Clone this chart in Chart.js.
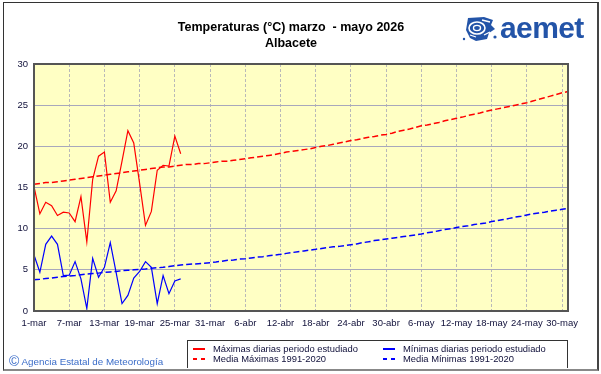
<!DOCTYPE html>
<html>
<head>
<meta charset="utf-8">
<script src="https://cdn.jsdelivr.net/npm/chart.js@4.4.1/dist/chart.umd.min.js"></script>
<style>
  body { margin: 0; background: #fff; }
  #wrap { position: relative; width: 601px; height: 374px; overflow: hidden; font-family: "Liberation Sans", Arial, sans-serif; }
  #wrap canvas { position: absolute; left: 0; top: 0; }
  .abs { position: absolute; white-space: nowrap; }
  #frame { left: 3px; top: 2px; width: 593px; height: 366px; border-left: 1px solid #333; border-top: 1px solid #333; border-right: 2px solid #444; border-bottom: 2px solid #888; }
  .title { left: 0; width: 582px; text-align: center; font-weight: bold; font-size: 12.5px; color: #000; }
  #logo { left: 500px; top: 11px; font-weight: bold; font-size: 30px; color: #2354a8; letter-spacing: -0.6px; }
  #legend { left: 187px; top: 340px; width: 379px; height: 27px; border: 1px solid #333; border-bottom: none; }
  .ltext { font-size: 9.4px; color: #10103a; }
  .seg { position: absolute; height: 1.5px; }
  #copy { left: 9px; top: 353px; font-size: 9.8px; color: #3a6cc8; }
  #copy span { font-size: 14px; vertical-align: -1px; }
</style>
</head>
<body>
<div id="wrap">
  <canvas id="tempChart" width="601" height="374"></canvas>
  <div id="frame" class="abs"></div>
  <div class="abs title" style="top:20px">Temperaturas (°C) marzo &nbsp;- mayo 2026</div>
  <div class="abs title" style="top:36px">Albacete</div>
  <svg class="abs" style="left:462px;top:15px" width="36" height="28" viewBox="0 0 36 28">
    <path d="M6 3 L22 2 L31 5 L29 10 L33 14 L27 18 L25 24 L14 26 L8 23 L4 15 Z" fill="#2354a8"/>
    <ellipse cx="15" cy="13" rx="8" ry="6" fill="none" stroke="#fff" stroke-width="1.6"/>
    <ellipse cx="15" cy="13" rx="3.5" ry="2.6" fill="none" stroke="#fff" stroke-width="1.4"/>
    <path d="M20 5 L28 7 M22 20 L28 17 M8 20 L14 22" stroke="#fff" stroke-width="1.3"/>
    <circle cx="2" cy="24" r="1.2" fill="#2354a8"/>
    <circle cx="33" cy="22" r="1.6" fill="#2354a8"/>
  </svg>
  <div id="logo" class="abs">aemet</div>
  <div id="legend" class="abs"></div>
  <div class="seg" style="left:193px;top:348px;width:12px;background:#ff0000"></div>
  <div class="seg" style="left:193px;top:358px;width:4px;background:#ff0000"></div>
  <div class="seg" style="left:201px;top:358px;width:4px;background:#ff0000"></div>
  <div class="seg" style="left:383px;top:348px;width:12px;background:#0000ff"></div>
  <div class="seg" style="left:383px;top:358px;width:4px;background:#0000ff"></div>
  <div class="seg" style="left:391px;top:358px;width:4px;background:#0000ff"></div>
  <div class="abs ltext" style="left:213px;top:343px">Máximas diarias periodo estudiado</div>
  <div class="abs ltext" style="left:213px;top:353px">Media Máximas 1991-2020</div>
  <div class="abs ltext" style="left:403px;top:343px">Mínimas diarias periodo estudiado</div>
  <div class="abs ltext" style="left:403px;top:353px">Media Mínimas 1991-2020</div>
  <div id="copy" class="abs"><span>©</span> Agencia Estatal de Meteorología</div>
</div>
<script>
// categories: every day from 1-mar to 31-may
const monthNames = ['mar', 'abr', 'may'];
const monthDays = [31, 30, 31];
const dayLabels = [];
monthNames.forEach((m, k) => {
    for (let d = 1; d <= monthDays[k]; d++) dayLabels.push(d + '-' + m);
});

// daily values (1-mar .. 26-mar)
const maxDaily = [15.1, 11.8, 13.2, 12.8, 11.6, 12.0, 11.9, 10.85, 13.9, 8.4,
                  16.0, 18.8, 19.3, 13.2, 14.6, 18.2, 21.9, 20.4, 15.5, 10.4,
                  12.1, 17.1, 17.7, 17.6, 21.25, 19.1];
const minDaily = [6.8, 4.7, 8.1, 9.1, 8.1, 4.3, 4.35, 6.0, 3.9, 0.3,
                  6.4, 4.1, 5.3, 8.3, 4.65, 0.9, 1.9, 4.0, 4.8, 6.0,
                  5.3, 0.9, 4.3, 2.1, 3.65, 3.9];

// 1991-2020 means, one value per day
const maxMean = [15.4, 15.5, 15.6, 15.6, 15.7, 15.8, 15.9, 16.0, 16.1, 16.2,
                 16.3, 16.4, 16.5, 16.6, 16.7, 16.8, 16.9, 17.0, 17.1, 17.2,
                 17.3, 17.4, 17.5, 17.5, 17.6, 17.7, 17.8, 17.8, 17.9, 17.9,
                 18.0, 18.1, 18.2, 18.2, 18.3, 18.4, 18.5, 18.6, 18.7, 18.8,
                 18.9, 19.0, 19.15, 19.3, 19.4, 19.5, 19.6, 19.7, 19.85, 20.0,
                 20.1, 20.25, 20.4, 20.55, 20.7, 20.8, 20.95, 21.1, 21.2, 21.35,
                 21.45, 21.6, 21.8, 21.95, 22.1, 22.3, 22.5, 22.6, 22.75, 22.9,
                 23.1, 23.25, 23.4, 23.55, 23.75, 23.9, 24.05, 24.25, 24.4, 24.55,
                 24.7, 24.85, 25.0, 25.15, 25.3, 25.5, 25.7, 25.9, 26.1, 26.3,
                 26.5, 26.65];
const minMean = [3.8, 3.85, 3.95, 4.0, 4.1, 4.2, 4.25, 4.3, 4.4, 4.5,
                 4.55, 4.6, 4.7, 4.75, 4.8, 4.9, 4.95, 5.0, 5.05, 5.1,
                 5.2, 5.25, 5.3, 5.4, 5.5, 5.6, 5.65, 5.7, 5.75, 5.8,
                 5.87, 5.95, 6.05, 6.15, 6.2, 6.3, 6.36, 6.45, 6.55, 6.6,
                 6.7, 6.8, 6.88, 7.0, 7.1, 7.2, 7.3, 7.4, 7.49, 7.6,
                 7.7, 7.8, 7.85, 7.95, 8.06, 8.15, 8.3, 8.4, 8.55, 8.65,
                 8.75, 8.85, 8.95, 9.05, 9.15, 9.25, 9.36, 9.5, 9.6, 9.75,
                 9.9, 10.0, 10.13, 10.25, 10.35, 10.5, 10.6, 10.7, 10.86, 11.0,
                 11.1, 11.25, 11.4, 11.5, 11.67, 11.8, 11.9, 12.0, 12.15, 12.25,
                 12.35, 12.45];

const yTicks = [0, 5, 10, 15, 20, 25, 30];
const labelEvery = 6;

// yellow plot background + dark frame round the plot
const plotFrame = {
    id: 'plotFrame',
    beforeDraw(chart) {
        const a = chart.chartArea, ctx = chart.ctx;
        ctx.save();
        ctx.fillStyle = '#ffffc4';
        ctx.fillRect(a.left, a.top, a.right - a.left, a.bottom - a.top);
        ctx.restore();
    },
    afterDraw(chart) {
        const a = chart.chartArea, ctx = chart.ctx;
        ctx.save();
        ctx.strokeStyle = '#555';
        ctx.lineWidth = 2;
        ctx.strokeRect(a.left, a.top, a.right - a.left, a.bottom - a.top);
        ctx.restore();
    }
};

const tickFont = { family: '"Liberation Sans", Arial, sans-serif', size: 9.5 };

new Chart(document.getElementById('tempChart').getContext('2d'), {
    type: 'line',
    data: {
        labels: dayLabels,
        datasets: [
            { label: 'Máximas diarias periodo estudiado', data: maxDaily, borderColor: '#ff0000', borderWidth: 1.2 },
            { label: 'Media Máximas 1991-2020', data: maxMean, borderColor: '#ff0000', borderWidth: 1.5, borderDash: [6, 3] },
            { label: 'Mínimas diarias periodo estudiado', data: minDaily, borderColor: '#0000ff', borderWidth: 1.2 },
            { label: 'Media Mínimas 1991-2020', data: minMean, borderColor: '#0000ff', borderWidth: 1.5, borderDash: [6, 3] }
        ]
    },
    options: {
        responsive: false,
        animation: false,
        devicePixelRatio: 1,
        layout: { padding: { top: 64, right: 33, bottom: 0, left: 0 } },
        elements: { point: { radius: 0 }, line: { tension: 0, fill: false } },
        plugins: { legend: { display: false }, tooltip: { enabled: false } },
        scales: {
            x: {
                afterFit: (s) => { s.height = 63; },
                grid: { color: '#b9b9b9', drawTicks: false },
                border: { display: false, dash: [3, 2] },
                ticks: {
                    autoSkip: false,
                    maxRotation: 0,
                    padding: 7,
                    color: '#10103a',
                    font: tickFont,
                    callback: (v, i) => (i % labelEvery === 0 ? dayLabels[i] : null)
                }
            },
            y: {
                min: yTicks[0],
                max: yTicks[yTicks.length - 1],
                afterFit: (s) => { s.width = 34; },
                afterBuildTicks: (s) => { s.ticks = yTicks.map(v => ({ value: v })); },
                grid: { color: '#a8a8bc', drawTicks: false },
                border: { display: false },
                ticks: { padding: 6, color: '#10103a', font: tickFont }
            }
        }
    },
    plugins: [plotFrame]
});
</script>
</body>
</html>
